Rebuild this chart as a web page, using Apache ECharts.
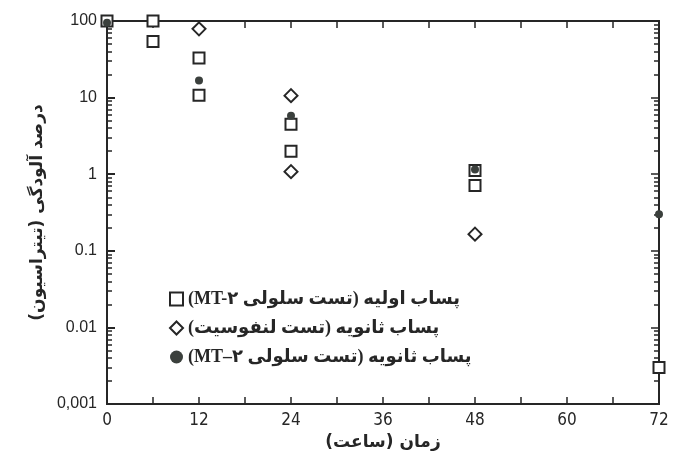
<!DOCTYPE html>
<html><head><meta charset="utf-8">
<script src="https://cdn.jsdelivr.net/npm/echarts@6/dist/echarts.min.js"></script>
<style>html,body{margin:0;padding:0;background:#fff}#c{width:677px;height:461px;direction:rtl}</style>
</head><body><div id="c"></div>
<script>
// ---- data ----
const seriesNames = [
  'پساب اولیه (تست سلولی MT-۲)',
  'پساب ثانویه (تست لنفوسیت)',
  'پساب ثانویه (تست سلولی MT–۲)'
];
const primaryHours   = [0, 6, 6, 12, 12, 24, 24, 48, 48, 72];
const primaryValues  = [100, 100, 54, 33, 10.7, 4.5, 2.0, 1.12, 0.71, 0.003];
const lymphoHours    = [12, 24, 24, 48];
const lymphoValues   = [79, 10.6, 1.08, 0.165];
const secondaryHours = [0, 12, 24, 48, 72];
const secondaryValues= [95, 16.7, 5.8, 1.15, 0.3];

const xTickValues = [0, 12, 24, 36, 48, 60, 72];
const yDecades    = [0.001, 0.01, 0.1, 1, 10, 100];
const yTickLabels = ['0,001', '0.01', '0.1', '1', '10', '100'];
const xTitle = 'زمان (ساعت)';
const yTitle = 'درصد آلودگی (تیتراسیون)';

// tick positions as exponents (for tick-only value axes)
const yMajorTickExps = yDecades.map(v => Math.log10(v));
const yMinorTickExps = [];
for (let i = 0; i < yDecades.length - 1; i++) {
  for (let m = 2; m <= 9; m++) yMinorTickExps.push(Math.log10(yDecades[i] * m));
}

const pair = (xs, ys) => xs.map((x, i) => [x, ys[i]]);
const ink = '#262626';
const hiddenSplit = { show: true, lineStyle: { color: 'rgba(0,0,0,0)', width: 0 } };

const chart = echarts.init(document.getElementById('c'));

function tickAxis(pos, values, len) {
  return {
    type: 'value', min: -3, max: 2, position: pos,
    axisLine: { show: true, onZero: false, lineStyle: { color: ink, width: 2 } },
    splitLine: hiddenSplit,
    axisLabel: { show: true, formatter: () => '' },
    axisTick: { show: true, inside: true, length: len, customValues: values, lineStyle: { color: ink, width: 1.5 } }
  };
}

chart.setOption({
  animation: false,
  backgroundColor: '#fff',
  grid: { left: 107, right: 18, top: 21, bottom: 57 },
  legend: {
    orient: 'vertical', left: 164, top: 285, itemGap: 11,
    itemWidth: 13, itemHeight: 13, align: 'left',
    textStyle: { fontFamily: 'Liberation Serif, DejaVu Sans', fontSize: 18, fontWeight: 'bold', color: ink },
    data: seriesNames
  },
  xAxis: [
    {
      type: 'value', min: 0, max: 72, interval: 6, position: 'bottom',
      axisLine: { show: true, onZero: false, lineStyle: { color: ink, width: 2 } },
      splitLine: { show: false },
      axisTick: { show: true, inside: true, length: 7, lineStyle: { color: ink, width: 1.5 } },
      axisLabel: {
        color: ink, fontFamily: 'DejaVu Sans Condensed, Liberation Sans', fontSize: 17, margin: 8,
        formatter: v => (xTickValues.indexOf(v) >= 0 ? String(v) : '')
      },
      name: xTitle, nameLocation: 'middle', nameGap: 28,
      nameTextStyle: { fontFamily: 'DejaVu Sans', fontSize: 17, fontWeight: 'bold', color: ink }
    },
    {
      type: 'value', min: 0, max: 72, interval: 6, position: 'top',
      axisLine: { show: true, onZero: false, lineStyle: { color: ink, width: 2 } },
      splitLine: { show: false },
      axisTick: { show: true, inside: true, length: 7, lineStyle: { color: ink, width: 1.5 } },
      axisLabel: { show: false }
    }
  ],
  yAxis: [
    {
      type: 'log', min: 0.001, max: 100, position: 'left',
      axisLine: { show: true, onZero: false, lineStyle: { color: ink, width: 2 } },
      splitLine: hiddenSplit,
      axisTick: { show: true, inside: true, length: 8, lineStyle: { color: ink, width: 2 } },
      axisLabel: {
        show: true, color: ink, fontFamily: 'Liberation Sans', fontSize: 16, margin: 10,
        formatter: v => yTickLabels[Math.round(Math.log10(v)) + 3]
      },
      name: yTitle, nameLocation: 'middle', nameGap: 42,
      nameTextStyle: { fontFamily: 'DejaVu Sans', fontSize: 17, fontWeight: 'bold', color: ink }
    },
    tickAxis('left', yMinorTickExps, 5),
    tickAxis('right', yMajorTickExps, 8),
    tickAxis('right', yMinorTickExps, 5)
  ],
  series: [
    {
      name: seriesNames[0], type: 'scatter', symbol: 'rect', symbolSize: 11,
      itemStyle: { color: '#fff', borderColor: ink, borderWidth: 2, opacity: 1 },
      data: pair(primaryHours, primaryValues), z: 3
    },
    {
      name: seriesNames[1], type: 'scatter', symbol: 'diamond', symbolSize: 13,
      itemStyle: { color: '#fff', borderColor: ink, borderWidth: 2, opacity: 1 },
      data: pair(lymphoHours, lymphoValues), z: 3
    },
    {
      name: seriesNames[2], type: 'scatter', symbol: 'circle', symbolSize: 8,
      itemStyle: { color: '#3b403d', opacity: 1 },
      data: pair(secondaryHours, secondaryValues), z: 4
    }
  ]
});
</script></body></html>
